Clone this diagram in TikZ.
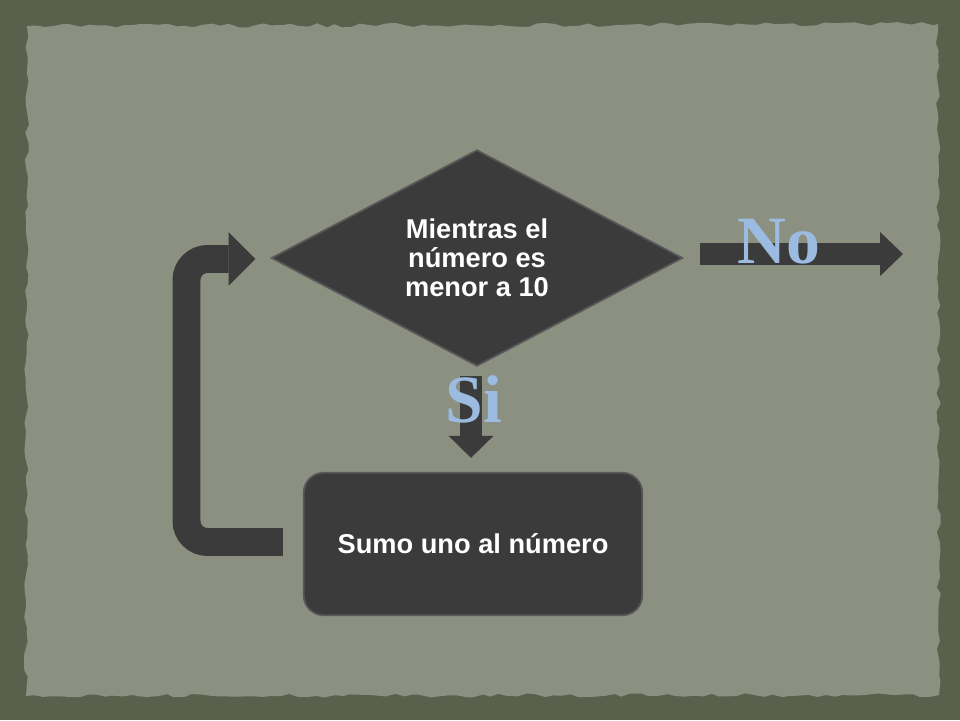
\documentclass[tikz,border=0pt]{standalone}
\usepackage{fontspec}
\setmainfont{Liberation Sans}
\newfontfamily\wordfont{Liberation Serif}
\usepackage{xcolor}
\usetikzlibrary{positioning, arrows.meta, shapes.geometric, decorations.pathmorphing}

\definecolor{frame}{HTML}{59614D}
\definecolor{paper}{HTML}{8B9081}
\definecolor{slate}{HTML}{3B3B3B}
\definecolor{slateedge}{HTML}{585858}
\definecolor{skyword}{HTML}{9CBBE0}

\tikzset{
  box/.style={fill=slate, draw=slateedge, line width=1pt, text=white,
    font=\bfseries\fontsize{15.5}{16.6}\selectfont, align=center},
  cond/.style={box, diamond, aspect=1.9, inner sep=0pt,
    minimum width=234.1pt, minimum height=123pt},
  act/.style={box, rectangle, rounded corners=11.3pt,
    minimum width=192.7pt, minimum height=81.1pt},
  word/.style={text=skyword, font=\wordfont\bfseries\fontsize{38.5}{40}\selectfont,
    inner sep=0pt, anchor=base},
}

\begin{document}
\begin{tikzpicture}[x=0.02cm, y=-0.02cm]
  \useasboundingbox (0,0) rectangle (960,720);
  % background
  \fill[frame] (0,0) rectangle (960,720);
  \pgfmathsetseed{7}
  \fill[paper, decorate, decoration={random steps, segment length=5pt, amplitude=1.2pt}]
          (27,26) -- (938,24) -- (939,695) -- (26,696) -- cycle;

  \node[cond] (loopcheck) at (477,258) {Mientras el\\número es\\menor a 10};
  \node[act] (addone) at (473,544) {Sumo uno al número};
  \coordinate (exit) at (903,254);

  \draw[draw=slate, line width=13pt, -{Triangle[length=13pt, width=25pt, line width=0pt]}]
          ([shift={(16,-4)}]loopcheck.east) -- (exit);
  \draw[draw=slate, line width=12.5pt, -{Triangle[length=12.5pt, width=25.5pt, line width=0pt]}]
          ([shift={(-6,9)}]loopcheck.south) -- ([shift={(-2,-14)}]addone.north);
  \draw[draw=slate, line width=15.9pt, rounded corners=12pt,
        -{Triangle[length=15.3pt, width=30.6pt, line width=0pt]}]
          ([shift={(-20,-2)}]addone.west) -| ([shift={(-84,1)}]loopcheck.west)
          -- ([shift={(-15,1)}]loopcheck.west);

  \node[word] (nolabel) at (779,263) {No};
  \node[word] (silabel) at (474,422) {Si};
\end{tikzpicture}
\end{document}
